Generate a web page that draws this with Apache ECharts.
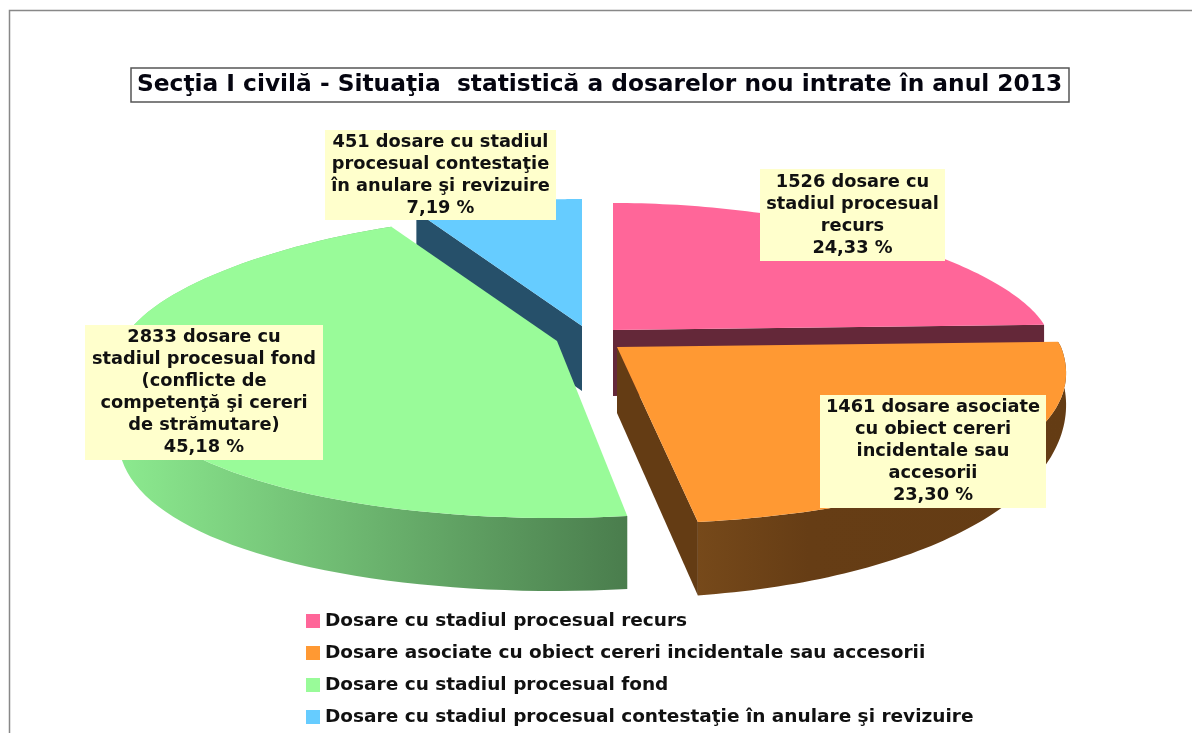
<!DOCTYPE html>
<html><head><meta charset="utf-8">
<style>html,body{margin:0;padding:0;background:#fff}#c{width:1192px;height:733px}</style>
<script src="https://cdn.jsdelivr.net/npm/echarts@6/dist/echarts.min.js"></script>
</head><body><div id="c"></div>
<script>
const titleText = 'Secţia I civilă - Situaţia  statistică a dosarelor nou intrate în anul 2013';
const categories = ['Dosare cu stadiul procesual recurs','Dosare asociate cu obiect cereri incidentale sau accesorii','Dosare cu stadiul procesual fond','Dosare cu stadiul procesual contestaţie în anulare şi revizuire'];
const dosare = [1526, 1461, 2833, 451];
const labelLines = [
 ['1526 dosare cu','stadiul procesual','recurs','24,33 %'],
 ['1461 dosare asociate','cu obiect cereri','incidentale sau','accesorii','23,30 %'],
 ['2833 dosare cu','stadiul procesual fond','(conflicte de','competenţă şi cereri','de strămutare)','45,18 %'],
 ['451 dosare cu stadiul','procesual contestaţie','în anulare şi revizuire','7,19 %']
];
const topColors = ['#ff6699','#ff9933','#99fb99','#66ccff'];

// layout
const centers = [[613,330],[617,347],[557,341],[582,326]];
const radii = [434,444,434,434];
const shear = [0,6,-3,0];
const boxes = [[760,169,185,92],[820,395,226,113],[85,325,238,135],[325,130,231,90]];
const seriesZ = [2,3,4,1];
const RYB=127, RYF=177, K=0.14, DEPTH=71;
const total = dosare.reduce((a,b)=>a+b,0);
const starts=[]; let acc=0; dosare.forEach(v=>{starts.push(acc/total*2*Math.PI);acc+=v;});

function pt(i,t,dy){
  const c=centers[i], s=Math.sin(t), co=Math.cos(t);
  return [c[0]+radii[i]*s*(1-K*co)+shear[i]*Math.max(0,-co), c[1]-(co>0?RYB:RYF)*co+(dy||0)];
}
function arc(i,a,b,depthFn){
  const out=[],n=80;
  for(let j=0;j<=n;j++){const t=a+(b-a)*j/n; out.push(pt(i,t,depthFn?depthFn(t):0));}
  return out;
}
const grad=(stops)=>new echarts.graphic.LinearGradient(0,0,1,0,stops);
const poly=(points,fill)=>({type:'polygon',shape:{points},style:{fill},silent:true});
const orangeDepth=t=>28+46*Math.pow(Math.abs(Math.cos(t)),1.3);
const faces=[
  ()=>{const c=centers[0],e=starts[1];return [poly([c,pt(0,e),pt(0,e,66),[c[0],c[1]+66]],'#642839')];},
  ()=>{const c=centers[1],a=starts[1],e=starts[2];
      const top=arc(1,a,e),bot=arc(1,a,e,orangeDepth).reverse();
      return [poly(top.concat(bot),grad([{offset:0,color:'#76491a'},{offset:.3,color:'#663d15'},{offset:1,color:'#643c14'}])),
              poly([c,pt(1,e),pt(1,e,orangeDepth(e)),[c[0],c[1]+DEPTH-5]],'#643c14')];},
  ()=>{const a=starts[2],e=starts[3];
      const top=arc(2,a,e),bot=arc(2,a,e,()=>DEPTH+2).reverse();
      return [poly(top.concat(bot),grad([{offset:0,color:'#8cea8f'},{offset:1,color:'#4a7d4d'}]))];},
  ()=>{const c=centers[3],a=starts[3];
      return [poly([c,pt(3,a),pt(3,a,65),[c[0],c[1]+65]],'#26506a')];}
];

const series=dosare.map((v,i)=>({
  name:categories[i], type:'custom', coordinateSystem:'none', z:seriesZ[i], silent:true,
  animation:false, itemStyle:{color:topColors[i]}, data:[[v]],
  renderItem:(params,api)=>{
    const val=api.value(0), a=starts[i], e=a+val/total*2*Math.PI, c=centers[i];
    const ch=faces[i]();
    ch.push(poly([c].concat(arc(i,a,e)),topColors[i]));
    return {type:'group',children:ch};
  }
}));

const LINE=22;
const graphics=[{type:'polyline',shape:{points:[[9.5,733],[9.5,10.5],[1192,10.5]]},style:{stroke:'#888',lineWidth:1.5,fill:null},z:0,silent:true}];
labelLines.forEach((lines,i)=>{
  const b=boxes[i];
  graphics.push({type:'rect',shape:{x:b[0],y:b[1],width:b[2],height:b[3]},style:{fill:'#ffffcc'},z:10,silent:true});
  const y0=b[1]+b[3]/2-(lines.length*LINE)/2;
  lines.forEach((t,j)=>graphics.push({type:'text',x:b[0]+b[2]/2,y:y0+LINE*(j+.5),z:11,silent:true,
    style:{text:t,fill:'#111',font:'bold 17.8px "DejaVu Sans"',textAlign:'center',textVerticalAlign:'middle'}}));
});

const chart=echarts.init(document.getElementById('c'),null,{renderer:'canvas'});
chart.setOption({
  animation:false,
  backgroundColor:'#fff',
  title:{text:titleText,left:131,top:68,borderColor:'#555',borderWidth:1.5,padding:[6,7,6,6],
    textStyle:{fontFamily:'DejaVu Sans',fontWeight:'bold',fontSize:23.3,color:'#050510',lineHeight:22}},
  legend:{data:categories,orient:'vertical',left:306,top:611,itemWidth:14,itemHeight:14,itemGap:12,icon:'rect',
    selectedMode:false,padding:0,textStyle:{fontFamily:'DejaVu Sans',fontWeight:'bold',fontSize:18.5,color:'#111',lineHeight:20}},
  series:series,
  graphic:{elements:graphics}
});
</script></body></html>
